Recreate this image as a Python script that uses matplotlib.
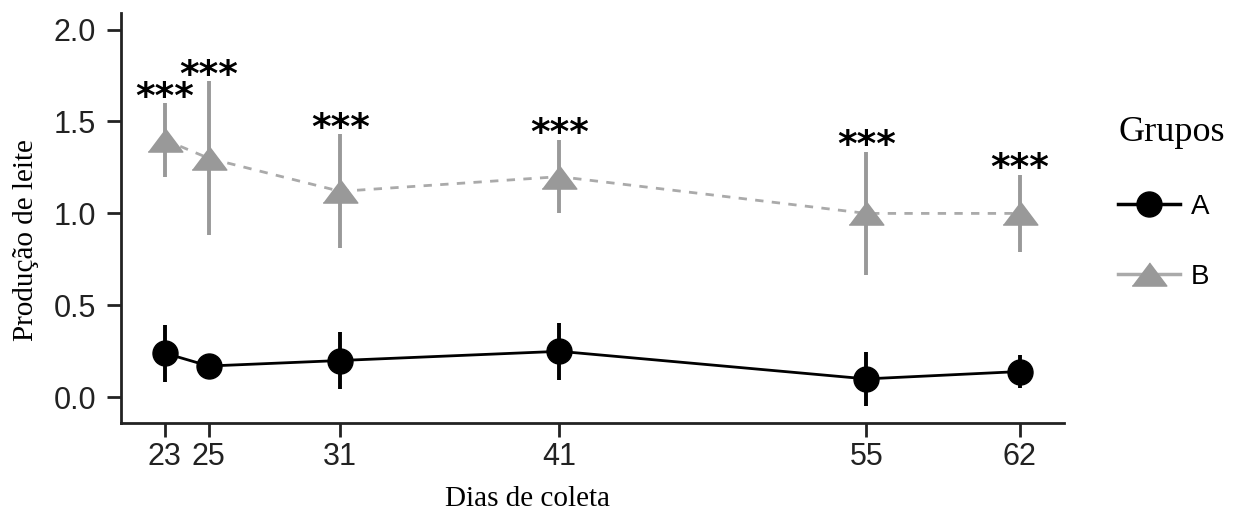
import matplotlib.pyplot as plt
from matplotlib.lines import Line2D

# dias de coleta
dias = [23, 25, 31, 41, 55, 62]
tick_labels = ['23', '25', '31', '41', '55', '62']

# grupo A
a_media = [0.24, 0.17, 0.20, 0.25, 0.10, 0.14]
a_erro = [0.155, 0.03, 0.155, 0.155, 0.145, 0.09]

# grupo B
b_media = [1.40, 1.30, 1.12, 1.20, 1.00, 1.00]
b_erro = [0.20, 0.42, 0.31, 0.20, 0.335, 0.21]

signif = ['***'] * 6

cinza = '#999999'
tri = [(-1.5, -1), (1.5, -1), (0, 1)]

fig = plt.figure(figsize=(12.44, 5.12), dpi=100)
ax = fig.add_axes([0.0973, 0.1738, 0.7577, 0.8008])

# B
ax.plot(dias, b_media, color='#aaaaaa', ls=(0, (3, 3)), lw=2, zorder=1)
ax.errorbar(dias, b_media, yerr=b_erro, fmt='none', ecolor=cinza, elinewidth=2.8, capsize=0, zorder=2)
ax.plot(dias, b_media, ls='none', marker=tri, ms=25, color=cinza, mec=cinza, zorder=3)

# A
ax.plot(dias, a_media, color='black', lw=2, zorder=4)
ax.errorbar(dias, a_media, yerr=a_erro, fmt='none', ecolor='black', elinewidth=2.8, capsize=0, zorder=5)
ax.plot(dias, a_media, ls='none', marker='o', ms=18, color='black', zorder=6)

for d, m, e, s in zip(dias, b_media, b_erro, signif):
    ax.text(d, m + e - 0.025, s, ha='center', va='baseline', fontsize=27,
            fontweight='bold', family='DejaVu Sans')

ax.set_xlim(21, 64)
ax.set_ylim(-0.14, 2.09)
ax.set_xticks(dias)
ax.set_xticklabels(tick_labels)
ax.set_yticks([0.0, 0.5, 1.0, 1.5, 2.0])
ax.set_yticklabels(['0.0', '0.5', '1.0', '1.5', '2.0'])
for lab in ax.get_xticklabels() + ax.get_yticklabels():
    lab.set_family('Liberation Sans')
    lab.set_fontsize(22)
    lab.set_color('#222222')
ax.tick_params(width=2, length=10, color='#222222')
ax.tick_params(axis='y', pad=8)
ax.tick_params(axis='x', pad=4)
for s in ['top', 'right']:
    ax.spines[s].set_visible(False)
for s in ['left', 'bottom']:
    ax.spines[s].set_linewidth(2)
    ax.spines[s].set_color('#222222')

fig.text(0.424, 0.026, 'Dias de coleta', ha='center', va='center',
         family='Liberation Serif', fontsize=21)
fig.text(0.021, 0.531, 'Produção de leite', ha='center', va='center', rotation=90,
         family='Liberation Serif', fontsize=21)

handles = [
    Line2D([], [], color='black', lw=2.5, marker='o', ms=18),
    Line2D([], [], color='#aaaaaa', lw=2.5, marker=tri, ms=25, mfc=cinza, mec=cinza),
]
leg = fig.legend(handles, ['A', 'B'], loc='upper left', bbox_to_anchor=(0.879, 0.822),
                 frameon=False, handlelength=2.2, labelspacing=1.6, handletextpad=0.4,
                 prop={'family': 'Liberation Sans', 'size': 20},
                 title='Grupos', title_fontproperties={'family': 'Liberation Serif', 'size': 26})
leg._legend_box.align = 'left'

fig.savefig('out.png', dpi=100)
